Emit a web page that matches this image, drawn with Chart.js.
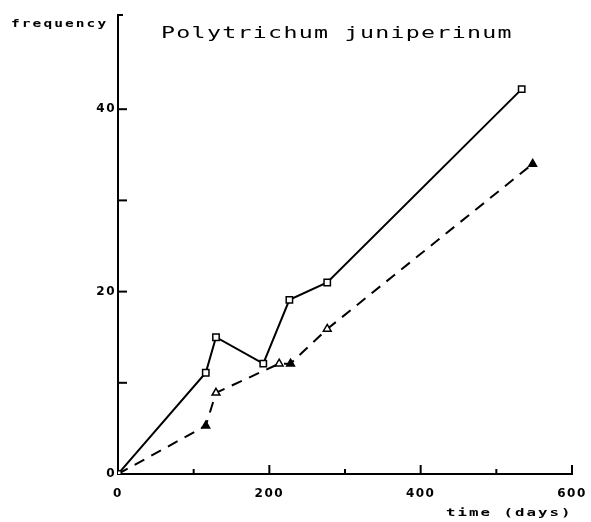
<!DOCTYPE html>
<html>
<head>
<meta charset="utf-8">
<script src="https://cdn.jsdelivr.net/npm/chart.js@4"></script>
<style>
html,body{margin:0;padding:0;background:#fff;}
#wrap{width:591px;height:522px;}
</style>
</head>
<body>
<div id="wrap"><canvas id="c" width="591" height="522"></canvas></div>
<script>
// ---- data ----
const titleText = "Polytrichum juniperinum";
const xAxisTitle = "time (days)";
const yAxisTitle = "frequency";
const squareDays = [0, 116, 129.5, 192, 226.5, 276.5, 533.5];
const squareFreq = [0, 11.1, 15.0, 12.1, 19.1, 21.0, 42.2];
const triDays = [0, 116, 129.5, 213, 228, 276.5, 548];
const triFreq = [0, 5.3, 8.9, 12.1, 12.1, 15.9, 34.0];
const triFilled = [false, true, false, false, true, false, true];
const xLabelled = [0, 200, 400, 600];
const yLabelled = [0, 20, 40];

const toPts = (xs, ys) => xs.map((x, i) => ({x: x, y: ys[i]}));

const MONO = "'DejaVu Sans Mono', monospace";
const SANS = "'DejaVu Sans', sans-serif";

function drawStretched(ctx, text, x, y, font, scaleX, spacing) {
  ctx.save();
  ctx.translate(x, y);
  ctx.scale(scaleX, 1);
  ctx.font = font;
  ctx.letterSpacing = spacing + 'px';
  ctx.textAlign = 'left';
  ctx.textBaseline = 'alphabetic';
  ctx.fillStyle = '#000';
  ctx.fillText(text, 0, 0);
  ctx.restore();
}

const decor = {
  id: 'decor',
  beforeDraw(chart) {
    chart.ctx.letterSpacing = '1.5px';
  },
  afterDraw(chart) {
    const ctx = chart.ctx;
    const xs = chart.scales.x, ys = chart.scales.y;
    const ca = chart.chartArea;
    ctx.save();
    ctx.letterSpacing = '0px';
    ctx.strokeStyle = '#000';
    ctx.lineWidth = 2;
    // inward ticks on x axis
    for (let v = 100; v <= 600; v += 100) {
      const px = xs.getPixelForValue(v);
      const len = (v % 200 === 0) ? 9 : 5;
      ctx.beginPath();
      ctx.moveTo(px, ca.bottom);
      ctx.lineTo(px, ca.bottom - len);
      ctx.stroke();
    }
    // inward ticks on y axis
    for (let v = 10; v <= 40; v += 10) {
      const py = ys.getPixelForValue(v);
      ctx.beginPath();
      ctx.moveTo(ca.left, py);
      ctx.lineTo(ca.left + 9, py);
      ctx.stroke();
    }
    // hook at top of y axis
    ctx.beginPath();
    ctx.moveTo(ca.left, ca.top + 1);
    ctx.lineTo(ca.left, ca.top - 3);
    ctx.lineTo(ca.left + 5, ca.top - 3);
    ctx.stroke();
    ctx.restore();
    // texts
    drawStretched(ctx, titleText, 161, 37.5, "15px " + MONO, 1.55, 0.84);
    drawStretched(ctx, yAxisTitle, 11, 26.5, "bold 10px " + MONO, 1.45, 1.43);
    drawStretched(ctx, xAxisTitle, 446, 516, "bold 10.5px " + MONO, 1.5, 1.35);
    ctx.letterSpacing = '0px';
  }
};

new Chart(document.getElementById('c'), {
  type: 'scatter',
  data: {
    datasets: [
      {
        label: 'squares',
        data: toPts(squareDays, squareFreq),
        showLine: true,
        borderColor: '#000',
        borderWidth: 2,
        tension: 0,
        pointStyle: 'rect',
        pointRadius: 4.5,
        pointBorderWidth: 1.5,
        pointBorderColor: '#000',
        pointBackgroundColor: '#fff'
      },
      {
        label: 'triangles',
        data: toPts(triDays, triFreq),
        showLine: true,
        borderColor: '#000',
        borderWidth: 2,
        borderDash: [11, 8],
        tension: 0,
        pointStyle: 'triangle',
        pointRadius: 4.5,
        pointBorderWidth: 1.5,
        pointBorderColor: '#000',
        pointBackgroundColor: triFilled.map(f => f ? '#000' : '#fff')
      }
    ]
  },
  options: {
    responsive: false,
    animation: false,
    devicePixelRatio: 1,
    layout: {padding: {left: 0, right: 19, top: 18, bottom: 0}},
    plugins: {
      legend: {display: false},
      tooltip: {enabled: false},
      title: {display: false}
    },
    scales: {
      x: {
        type: 'linear',
        min: 0, max: 600,
        afterFit(s) { s.height = 48; s.paddingLeft = 0; s.paddingRight = 0; },
        grid: {display: false, drawTicks: false},
        border: {display: true, color: '#000', width: 2},
        ticks: {
          stepSize: 100,
          padding: 13,
          color: '#000',
          font: {family: SANS, size: 12, weight: 'bold'},
          maxRotation: 0,
          autoSkip: false,
          callback: v => xLabelled.includes(v) ? String(v) : ''
        }
      },
      y: {
        type: 'linear',
        min: 0, max: 50,
        afterFit(s) { s.width = 118; s.paddingTop = 0; s.paddingBottom = 0; },
        grid: {display: false, drawTicks: false},
        border: {display: true, color: '#000', width: 2},
        ticks: {
          stepSize: 10,
          padding: 2,
          color: '#000',
          font: {family: SANS, size: 12, weight: 'bold'},
          autoSkip: false,
          callback: v => yLabelled.includes(v) ? String(v) : ''
        }
      }
    }
  },
  plugins: [decor]
});
</script>
</body>
</html>
